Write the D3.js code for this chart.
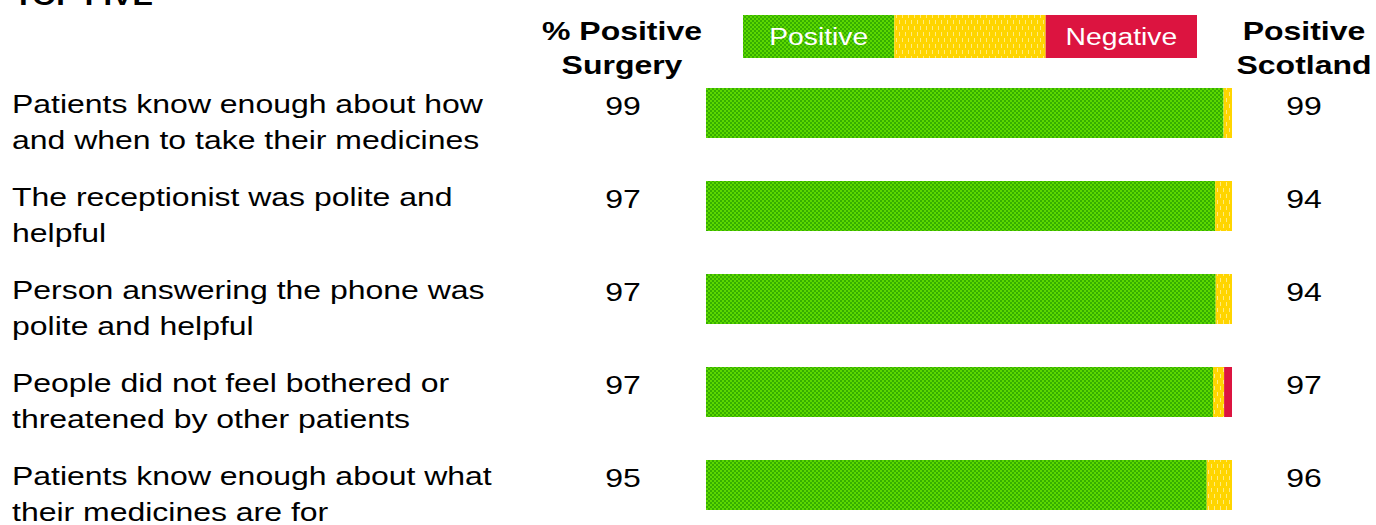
<!DOCTYPE html>
<html>
<head>
<meta charset="utf-8">
<script src="https://cdn.jsdelivr.net/npm/d3@7"></script>
<style>
  body { margin: 0; background: #fff; }
  svg { display: block; font-family: "Liberation Sans", Arial, sans-serif; }
</style>
</head>
<body>
<div id="chart"></div>
<script>
// questions, two lines each
const questions = [
  ["Patients know enough about how", "and when to take their medicines"],
  ["The receptionist was polite and", "helpful"],
  ["Person answering the phone was", "polite and helpful"],
  ["People did not feel bothered or", "threatened by other patients"],
  ["Patients know enough about what", "their medicines are for"]
]
const positive = [98.4, 96.8, 96.9, 96.4, 95.2]
const neutral = [1.6, 3.2, 3.1, 2.1, 4.8]
const negative = [0, 0, 0, 1.5, 0]
const surgeryLabel = ["99", "97", "97", "97", "95"]
const scotlandLabel = ["99", "94", "94", "97", "96"]
const legendKeys = ["Positive", "Neutral", "Negative"]
const legendText = ["Positive", "", "Negative"]

const width = 1376, height = 525
const sx = 1.23 // source picture is stretched sideways

const svg = d3.select("#chart").append("svg")
  .attr("width", width)
  .attr("height", height)

// fills
const defs = svg.append("defs")
const pg = defs.append("pattern").attr("id", "pGreen")
  .attr("width", 4).attr("height", 4).attr("patternUnits", "userSpaceOnUse")
pg.append("rect").attr("width", 4).attr("height", 4).attr("fill", "#5cd800")
pg.append("rect").attr("width", 2).attr("height", 2).attr("fill", "#36ae00")
pg.append("rect").attr("x", 2).attr("y", 2).attr("width", 2).attr("height", 2).attr("fill", "#36ae00")

const py = defs.append("pattern").attr("id", "pYellow")
  .attr("width", 6).attr("height", 12).attr("patternUnits", "userSpaceOnUse")
py.append("rect").attr("width", 6).attr("height", 12).attr("fill", "#ffd500")
py.append("rect").attr("x", 2).attr("y", 2).attr("width", 1).attr("height", 4).attr("fill", "#ffeb80")
py.append("rect").attr("x", 5).attr("y", 8).attr("width", 1).attr("height", 4).attr("fill", "#ffeb80")

const fills = { Positive: "url(#pGreen)", Neutral: "url(#pYellow)", Negative: "#dc1440" }

// scales
const x = d3.scaleLinear().domain([0, 100]).range([706, 1232])
const y = d3.scaleBand().domain(d3.range(questions.length)).range([45, 553]).padding(43 / 93)

// stacked data
const rows = questions.map((q, i) => ({ Positive: positive[i], Neutral: neutral[i], Negative: negative[i], i }))
const stack = d3.stack().keys(legendKeys)(rows)

svg.append("g").selectAll("g")
  .data(stack)
  .join("g")
  .attr("fill", d => fills[d.key])
  .selectAll("rect")
  .data(d => d)
  .join("rect")
  .attr("x", d => x(d[0]))
  .attr("y", d => y(d.data.i))
  .attr("width", d => x(d[1]) - x(d[0]))
  .attr("height", y.bandwidth())

// stretched text helper
function sText(g, tx, ty, str, anchor, size, weight, fill) {
  g.append("text")
    .attr("transform", `translate(${tx},${ty}) scale(${sx},1)`)
    .attr("text-anchor", anchor)
    .attr("font-size", size)
    .attr("font-weight", weight || "normal")
    .attr("fill", fill || "#000")
    .text(str)
}

const txt = svg.append("g")

// title, mostly cut off at the top
sText(txt, 14, 5, "TOP FIVE", "start", 25, "bold")

// column heads
sText(txt, 622, 40, "% Positive", "middle", 26, "bold")
sText(txt, 622, 74, "Surgery", "middle", 26, "bold")
sText(txt, 1304, 40, "Positive", "middle", 26, "bold")
sText(txt, 1304, 74, "Scotland", "middle", 26, "bold")

// legend
const lx = d3.scaleBand().domain(legendKeys).range([743, 1197])
const leg = svg.append("g")
leg.selectAll("rect")
  .data(legendKeys)
  .join("rect")
  .attr("x", d => lx(d))
  .attr("y", 15)
  .attr("width", lx.bandwidth())
  .attr("height", 43)
  .attr("fill", d => fills[d])
legendKeys.forEach((k, i) => {
  if (legendText[i]) sText(leg, lx(k) + lx.bandwidth() / 2, 45, legendText[i], "middle", 23, "normal", "#fff")
})

// rows
questions.forEach((q, i) => {
  const top = y(i)
  sText(txt, 12, top + 25, q[0], "start", 26)
  sText(txt, 12, top + 61, q[1], "start", 26)
  sText(txt, 623, top + 27, surgeryLabel[i], "middle", 26)
  sText(txt, 1304, top + 27, scotlandLabel[i], "middle", 26)
})
</script>
</body>
</html>
